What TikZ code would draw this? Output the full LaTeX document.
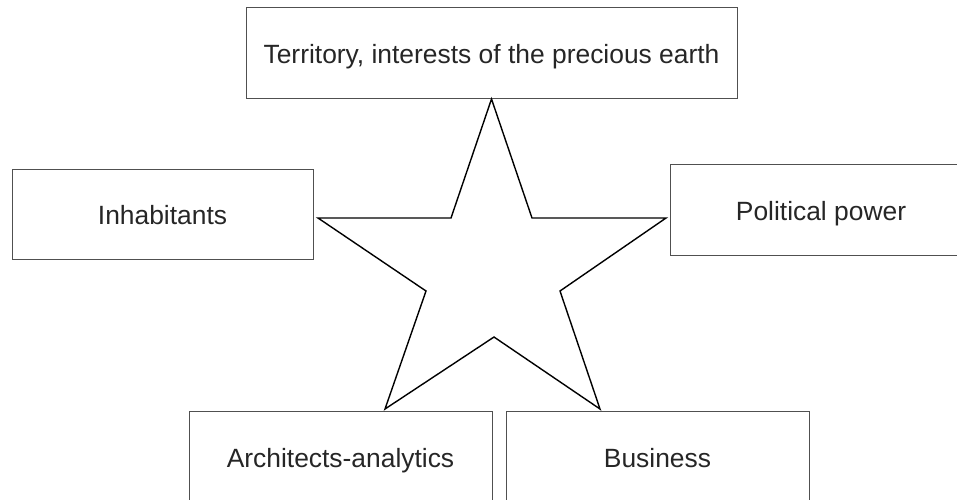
\documentclass[tikz,border=0pt]{standalone}
\usepackage{fontspec}
\setmainfont{Liberation Sans}
\definecolor{boxline}{HTML}{505050}
\definecolor{txt}{HTML}{262626}
\tikzset{
  factor/.style={draw=boxline, line width=1pt, inner sep=0pt, text=txt,
    font=\fontsize{26.4}{30}\selectfont, text height=21pt, text depth=0pt},
  starline/.style={draw=black, line width=1.4pt, line join=miter}
}
\begin{document}
\begin{tikzpicture}[x=1pt,y=-1pt]
\useasboundingbox (0,0) rectangle (957,499);
\node[factor, minimum width=491pt, minimum height=91pt] (terr) at (491.5,52.5) {Territory, interests of the precious earth};
\node[factor, minimum width=301pt, minimum height=90pt] (inh) at (162.5,214) {Inhabitants};
\node[factor, minimum width=302pt, minimum height=91pt] (pol) at (821,209.5) {Political power};
\node[factor, minimum width=303pt, minimum height=91pt] (arch) at (340.5,457) {Architects-analytics};
\node[factor, minimum width=303pt, minimum height=91pt] (bus) at (657.5,457) {Business};
\draw[starline] (491.5,99) -- (532,218) -- (666,218) -- (560,291) -- (600,409)
  -- (494,337) -- (385,409) -- (426,291) -- (318,218) -- (451,218) -- cycle;
\end{tikzpicture}
\end{document}
